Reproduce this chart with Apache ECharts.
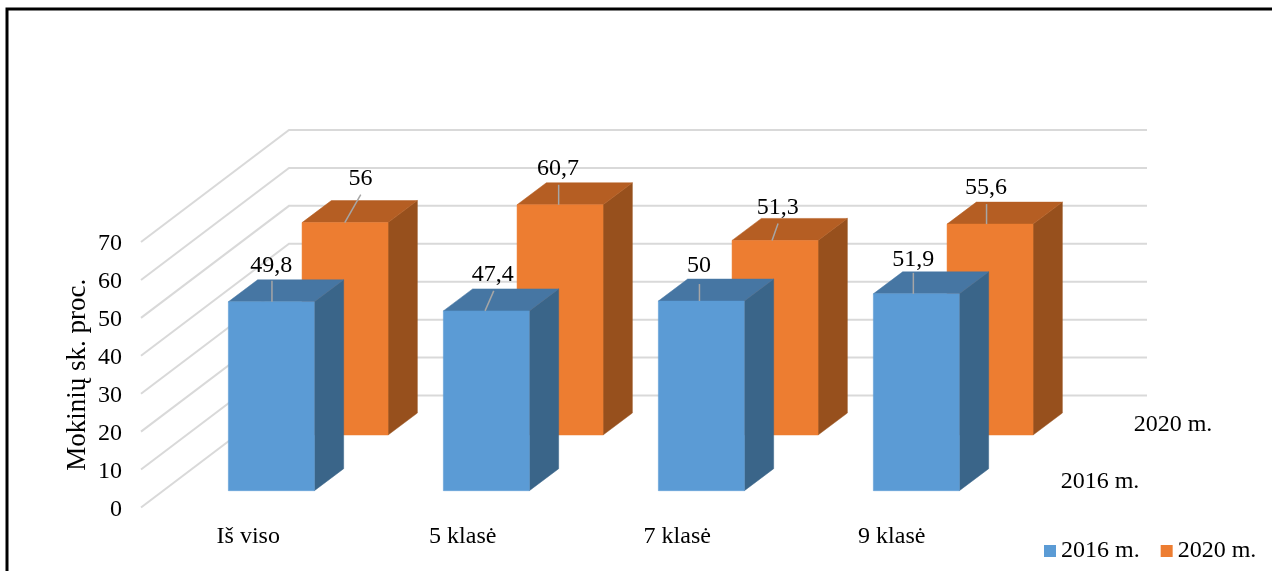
<!DOCTYPE html>
<html><head><meta charset="utf-8">
<style>html,body{margin:0;padding:0;background:#fff}#c{width:1272px;height:571px}</style>
<script src="https://cdn.jsdelivr.net/npm/echarts@6/dist/echarts.min.js"></script>
</head><body><div id="c"></div>
<script>
const categories = ['Iš viso', '5 klasė', '7 klasė', '9 klasė'];
const values2016 = [49.8, 47.4, 50, 51.9];
const values2020 = [56, 60.7, 51.3, 55.6];
const labels2016 = ['49,8', '47,4', '50', '51,9'];
const labels2020 = ['56', '60,7', '51,3', '55,6'];
const yTicks = [0, 10, 20, 30, 40, 50, 60, 70];
const seriesNames = ['2016 m.', '2020 m.'];
const yTitle = 'Mokinių sk. proc.';

// Layout of the fake 3D view
const FONT = '"Liberation Serif","Times New Roman",serif';
const FS = 24;
const DEPTH = {dx: 148, dy: -112};
const BAR = {w: 86, dx: 29.3, dy: -22};
// [label dx, label dy, leader start dx, leader start dy, leader end dx], relative to the front-top centre of a bar
const front = {dx: 23.1, dy: -16.8, face: '#5B9BD5', top: '#4676A3', side: '#3A6589',
  lab: [[0,-36,0.6,-21,0.6],[6.4,-36,7.4,-20,-1.3],[-2.4,-35,-1.9,-17,-1.9],[-3,-34,-3,-21,-3]]};
const rear = {dx: 96.8, dy: -72.5, face: '#ED7D31', top: '#B55E23', side: '#97501D',
  lab: [[15.5,-44,15.7,-28,-0.3],[-2,-36.5,-1.4,-20,-1.4],[2.7,-33,3,-17,-3],[-4,-36,-3.5,-20,-3.5]]};

function gridItem(params, api) {
  const cs = params.coordSys;
  const p = api.coord([0, api.value(1)]);
  const y = p[1], x0 = cs.x, x1 = cs.x + cs.width;
  return {type: 'polyline', silent: true,
    shape: {points: [[x0, y], [x0 + DEPTH.dx, y + DEPTH.dy], [x1 + DEPTH.dx, y + DEPTH.dy]]},
    style: {fill: null, stroke: '#D9D9D9', lineWidth: 2}};
}
function barItem(cfg, labels) {
  return function (params, api) {
    const i = api.value(0);
    const c = api.coord([i, api.value(1)]);
    const b = api.coord([i, 0]);
    const cx = c[0] + cfg.dx + i * 0.5;
    const xl = cx - BAR.w / 2, xr = xl + BAR.w;
    const yt = c[1] + cfg.dy, yb = b[1] + cfg.dy;
    const o = cfg.lab[i];
    const poly = (pts, col) => ({type: 'polygon', shape: {points: pts},
      style: {fill: col, stroke: col, lineWidth: 0.5}});
    return {type: 'group', children: [
      poly([[xr, yt], [xr + BAR.dx, yt + BAR.dy], [xr + BAR.dx, yb + BAR.dy], [xr, yb]], cfg.side),
      poly([[xl, yt], [xl + BAR.dx, yt + BAR.dy], [xr + BAR.dx, yt + BAR.dy], [xr, yt]], cfg.top),
      poly([[xl, yt], [xr, yt], [xr, yb], [xl, yb]], cfg.face),
      {type: 'line', shape: {x1: cx + o[2], y1: yt + o[3], x2: cx + o[4], y2: yt},
       style: {stroke: '#A6A6A6', lineWidth: 1.5}},
      {type: 'text', x: cx + o[0], y: yt + o[1],
       style: {text: labels[i], font: FS + 'px ' + FONT, fill: '#000', align: 'center', verticalAlign: 'middle'}}
    ]};
  };
}
const chart = echarts.init(document.getElementById('c'), null, {renderer: 'canvas'});
chart.setOption({
  animation: false,
  backgroundColor: '#fff',
  grid: {left: 141, top: 242, width: 858, height: 265.5, containLabel: false},
  xAxis: {type: 'category', data: categories, boundaryGap: true,
    axisLine: {show: false}, axisTick: {show: false}, splitLine: {show: false},
    axisLabel: {color: '#000', fontFamily: FONT, fontSize: FS, margin: 17, interval: 0}},
  yAxis: {type: 'value', min: 0, max: 70, interval: 10,
    name: yTitle, nameLocation: 'middle', nameRotate: 90, nameGap: 50, nameMoveOverlap: false,
    nameTextStyle: {color: '#000', fontFamily: FONT, fontSize: 27},
    axisLine: {show: false}, axisTick: {show: false}, splitLine: {show: false},
    axisLabel: {color: '#000', margin: 19, formatter: '{a|{value}}',
      rich: {a: {color: '#000', fontFamily: FONT, fontSize: FS, padding: [4, 0, 0, 0]}}}},
  legend: {left: 1044, top: 539, itemWidth: 12, itemHeight: 12, itemGap: 21, icon: 'rect',
    padding: 0, selectedMode: false, data: seriesNames,
    textStyle: {color: '#000', fontFamily: FONT, fontSize: FS, padding: [3, 0, 0, 0]}},
  graphic: [
    {type: 'rect', silent: true, z: 100, shape: {x: 7, y: 9, width: 1400, height: 700},
      style: {fill: null, stroke: '#000', lineWidth: 3}},
    {type: 'text', x: 1100, y: 482, style: {text: seriesNames[0], font: FS + 'px ' + FONT, fill: '#000', align: 'center', verticalAlign: 'middle'}},
    {type: 'text', x: 1173, y: 425, style: {text: seriesNames[1], font: FS + 'px ' + FONT, fill: '#000', align: 'center', verticalAlign: 'middle'}}
  ],
  series: [
    {name: 'grid', type: 'custom', silent: true, z: 1, data: yTicks.map(v => [0, v]),
      encode: {x: 0, y: 1}, renderItem: gridItem},
    {name: seriesNames[1], type: 'custom', silent: true, z: 2, itemStyle: {color: rear.face},
      data: values2020.map((v, i) => [i, v]), encode: {x: 0, y: 1}, renderItem: barItem(rear, labels2020)},
    {name: seriesNames[0], type: 'custom', silent: true, z: 3, itemStyle: {color: front.face},
      data: values2016.map((v, i) => [i, v]), encode: {x: 0, y: 1}, renderItem: barItem(front, labels2016)}
  ]
});
</script></body></html>
